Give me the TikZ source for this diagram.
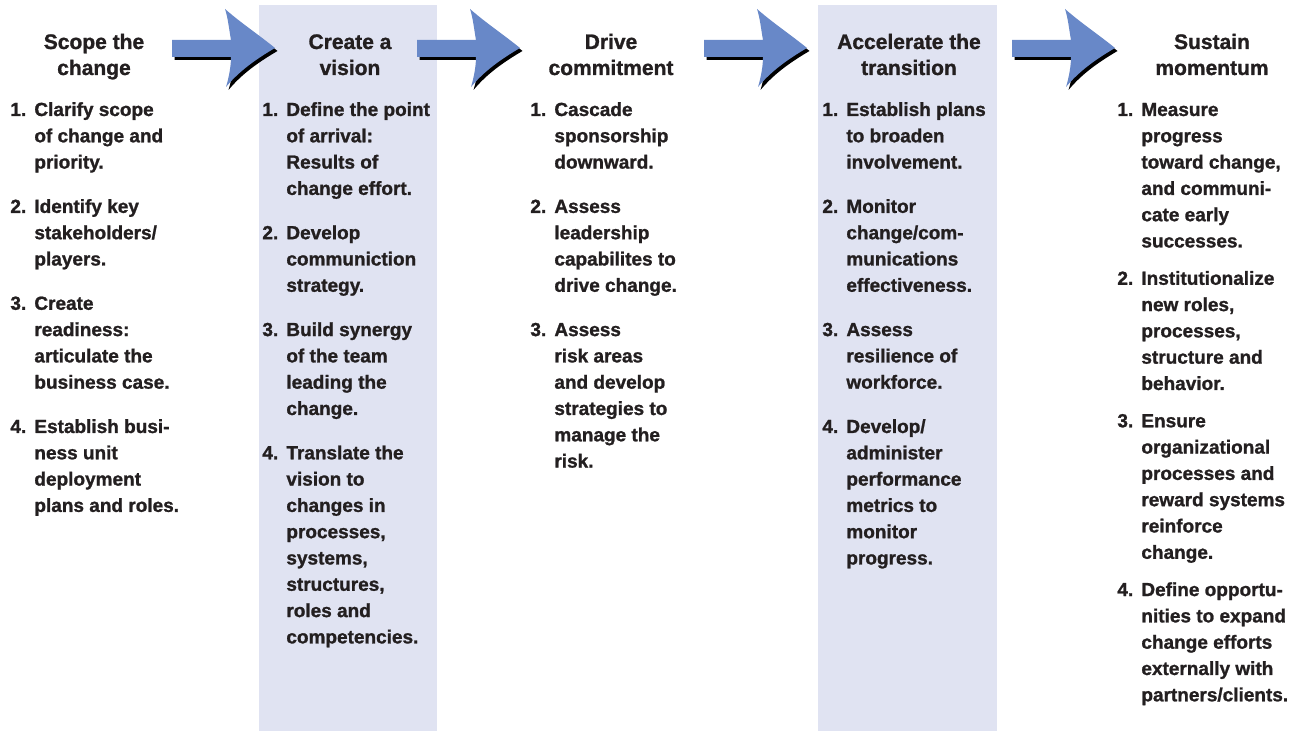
\documentclass[tikz,border=0pt]{standalone}
\usepackage{fontspec}
\setmainfont{Liberation Sans}[BoldFeatures={FakeBold=1.2}]
\definecolor{ink}{HTML}{231F20}
\definecolor{panelblue}{RGB}{224,227,242}
\definecolor{arrowblue}{RGB}{104,136,200}

% one numbered step: name, number x, text x, first baseline, number, lines
\newcommand\stageitem[6]{%
  \node[itemtxt] (#1) at (#2,#4) {#5.};
  \foreach \itemline [count=\k from 0] in {#6}
    {\node[itemtxt] (#1-\k) at (#3,{#4+26.3*\k}) {\itemline};}
}

\tikzset{
  itemtxt/.style={font=\bfseries\fontsize{9.5}{13}\selectfont, text=ink,
    inner sep=0pt, anchor=base west},
  headtxt/.style={font=\bfseries\fontsize{10.5}{13}\selectfont, text=ink,
    inner sep=0pt, anchor=base},
  panel/.style={fill=panelblue},
  flowarrow/.pic={
    \fill[black, shift={(2.5,3)}]
      (0,40) -- (59,40) .. controls (57,29) and (56,18) .. (53,9)
      .. controls (69,23) and (87,35) .. (103,48)
      .. controls (86,58) and (68,70) .. (54,87)
      .. controls (57,77) and (59,66) .. (59,57) -- (0,57) -- cycle;
    \fill[arrowblue]
      (0,40) -- (59,40) .. controls (57,29) and (56,18) .. (53,9)
      .. controls (69,23) and (87,35) .. (103,48)
      .. controls (86,58) and (68,70) .. (54,87)
      .. controls (57,77) and (59,66) .. (59,57) -- (0,57) -- cycle;
  }
}

\begin{document}
\begin{tikzpicture}[x=0.5pt,y=-0.5pt]
\useasboundingbox (0,0) rectangle (1296,731);

% shaded columns
\fill[panel] (259,5) rectangle (437,731);
\fill[panel] (818,5) rectangle (997,731);

% arrows between the stages
\pic (arrA) at (172,0) {flowarrow};
\pic (arrB) at (417,0) {flowarrow};
\pic (arrC) at (704,0) {flowarrow};
\pic (arrD) at (1012,0) {flowarrow};

% stage headings
\node[headtxt] (h1a) at (94,49) {Scope the};
\node[headtxt] (h1b) at (94,75) {change};
\node[headtxt] (h2a) at (350,49) {Create a};
\node[headtxt] (h2b) at (350,75) {vision};
\node[headtxt] (h3a) at (611,49) {Drive};
\node[headtxt] (h3b) at (611,75) {commitment};
\node[headtxt] (h4a) at (909,49) {Accelerate the};
\node[headtxt] (h4b) at (909,75) {transition};
\node[headtxt] (h5a) at (1212,49) {Sustain};
\node[headtxt] (h5b) at (1212,75) {momentum};

% Scope the change
\stageitem{s1a}{10}{34}{116}{1}{Clarify scope,of change and,priority.}
\stageitem{s1b}{10}{34}{212.9}{2}{Identify key,stakeholders/,players.}
\stageitem{s1c}{10}{34}{309.8}{3}{Create,readiness:,articulate the,business case.}
\stageitem{s1d}{10}{34}{433}{4}{Establish busi-,ness unit,deployment,plans and roles.}

% Create a vision
\stageitem{s2a}{262}{286}{116}{1}{Define the point,of arrival:,Results of,change effort.}
\stageitem{s2b}{262}{286}{239.2}{2}{Develop,communiction,strategy.}
\stageitem{s2c}{262}{286}{336.1}{3}{Build synergy,of the team,leading the,change.}
\stageitem{s2d}{262}{286}{459.3}{4}{Translate the,vision to,changes in,{processes,},{systems,},{structures,},roles and,competencies.}

% Drive commitment
\stageitem{s3a}{530}{554}{116}{1}{Cascade,sponsorship,downward.}
\stageitem{s3b}{530}{554}{212.9}{2}{Assess,leadership,capabilites to,drive change.}
\stageitem{s3c}{530}{554}{336.1}{3}{Assess,risk areas,and develop,strategies to,manage the,risk.}

% Accelerate the transition
\stageitem{s4a}{822}{846}{116}{1}{Establish plans,to broaden,involvement.}
\stageitem{s4b}{822}{846}{212.9}{2}{Monitor,change/com-,munications,effectiveness.}
\stageitem{s4c}{822}{846}{336.1}{3}{Assess,resilience of,workforce.}
\stageitem{s4d}{822}{846}{433}{4}{Develop/,administer,performance,metrics to,monitor,progress.}

% Sustain momentum
\stageitem{s5a}{1117}{1141}{116}{1}{Measure,progress,{toward change,},and communi-,cate early,successes.}
\stageitem{s5b}{1117}{1141}{284.8}{2}{Institutionalize,{new roles,},{processes,},structure and,behavior.}
\stageitem{s5c}{1117}{1141}{427.3}{3}{Ensure,organizational,processes and,reward systems,reinforce,change.}
\stageitem{s5d}{1117}{1141}{596.1}{4}{Define opportu-,nities to expand,change efforts,externally with,partners/clients.}
\end{tikzpicture}
\end{document}
